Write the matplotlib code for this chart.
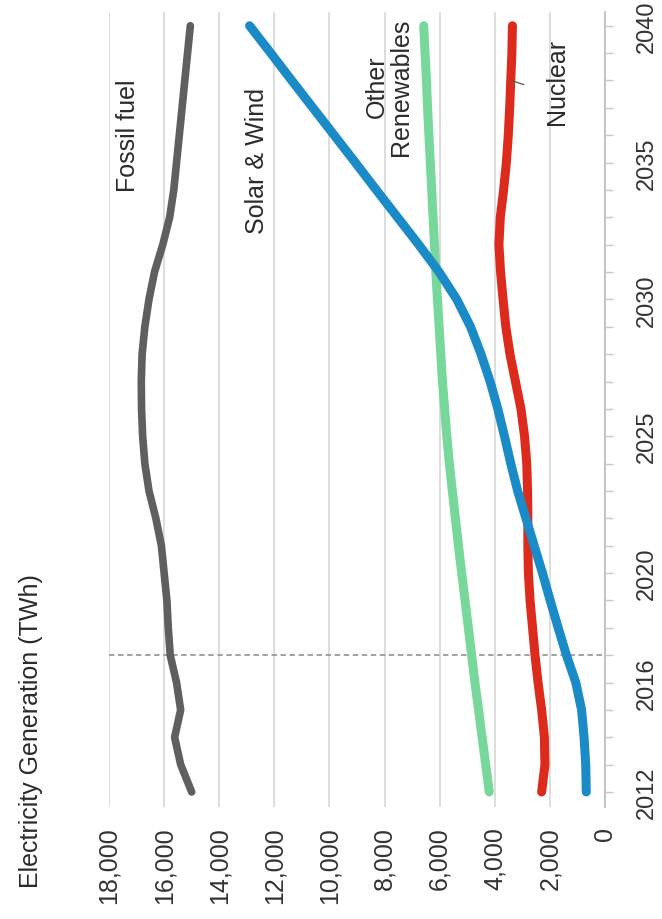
import matplotlib
matplotlib.use("Agg")
import matplotlib.pyplot as plt
from matplotlib.ticker import FuncFormatter, MultipleLocator

plt.rcParams['font.family'] = ['Liberation Sans', 'DejaVu Sans']

years = list(range(2012, 2041))

fossil = [15000, 15400, 15620, 15400, 15550, 15780, 15850, 15900, 16000, 16100,
          16300, 16550, 16700, 16780, 16820, 16830, 16800, 16700, 16550, 16350,
          16050, 15800, 15650, 15550, 15450, 15350, 15250, 15150, 15050]
solar_wind = [680, 700, 760, 850, 1060, 1400, 1700, 1990, 2270, 2570,
              2870, 3170, 3420, 3650, 3890, 4170, 4500, 4880, 5380, 6020,
              6760, 7530, 8300, 9060, 9830, 10600, 11370, 12130, 12900]
other_renew = [4200, 4330, 4460, 4590, 4720, 4840, 4960, 5080, 5200, 5320,
               5430, 5540, 5650, 5740, 5820, 5900, 5960, 6020, 6080, 6140,
               6190, 6240, 6290, 6340, 6390, 6440, 6480, 6530, 6580]
nuclear = [2300, 2180, 2200, 2300, 2430, 2540, 2630, 2720, 2780, 2800,
           2800, 2810, 2840, 2920, 3050, 3250, 3450, 3600, 3700, 3790,
           3850, 3800, 3680, 3580, 3510, 3460, 3420, 3380, 3360]

value_ticks = [0, 2000, 4000, 6000, 8000, 10000, 12000, 14000, 16000, 18000]
year_ticks = [2012, 2016, 2020, 2025, 2030, 2035, 2040]
history_end = 2017

fig = plt.figure(figsize=(6.62, 9.2), dpi=100)
ax = fig.add_axes([0.1647, 0.1217, 0.7492, 0.8641])

# chart is laid on its side: values run right-to-left, years bottom-to-top
ax.plot(fossil, years, color='#5f5f5f', lw=5.5, solid_capstyle='round', zorder=3)
ax.plot(other_renew, years, color='#78d89c', lw=6.5, solid_capstyle='round', zorder=3)
ax.plot(nuclear, years, color='#dc2b1c', lw=6.5, solid_capstyle='round', zorder=4)
ax.plot(solar_wind, years, color='#1b8bc8', lw=6.5, solid_capstyle='round', zorder=5)

ax.axhline(history_end, color='#9a9a9a', lw=1.3, ls=(0, (3, 2)), zorder=2)

ax.set_xlim(18000, 0)
ax.set_ylim(2011.45, 2040.5)

ax.set_xticks(value_ticks)
ax.xaxis.set_major_formatter(FuncFormatter(lambda v, p: f'{int(v):,}'))
ax.tick_params(axis='x', length=0, pad=14, labelsize=18, labelrotation=90,
               labelcolor='#333333')
ax.grid(axis='x', color='#dadada', lw=1.3)
ax.set_axisbelow(True)

ax.yaxis.tick_right()
ax.set_yticks(year_ticks)
ax.yaxis.set_minor_locator(MultipleLocator(1))
ax.tick_params(axis='y', which='both', direction='out', length=6, width=1,
               color='#c8c8c8', pad=16, labelsize=17, labelcolor='#333333')
for lab in ax.get_yticklabels():
    lab.set_rotation(90)
    lab.set_va('center')

for side in ['left', 'top', 'bottom']:
    ax.spines[side].set_visible(False)
ax.spines['right'].set_color('#c0c0c0')
ax.spines['right'].set_linewidth(1.3)

lab_kw = dict(rotation=90, ha='center', va='center', fontsize=18, color='#2b2b2b')
ax.text(17320, 2036.0, 'Fossil fuel', **lab_kw)
ax.text(12630, 2035.1, 'Solar & Wind', **lab_kw)
ax.text(7840, 2037.8, 'Other\nRenewables', multialignment='center',
        linespacing=1.0, **lab_kw)
ax.text(1740, 2038.0, 'Nuclear', **lab_kw)
ax.plot([3400, 2950], [2038.0, 2037.85], color='#555555', lw=0.9, zorder=6)

fig.text(31 / 662, 1 - 888 / 920, 'Electricity Generation (TWh)', rotation=90,
         ha='center', va='bottom', fontsize=18, color='#2b2b2b')

fig.savefig('out.png', dpi=100, facecolor='white')
